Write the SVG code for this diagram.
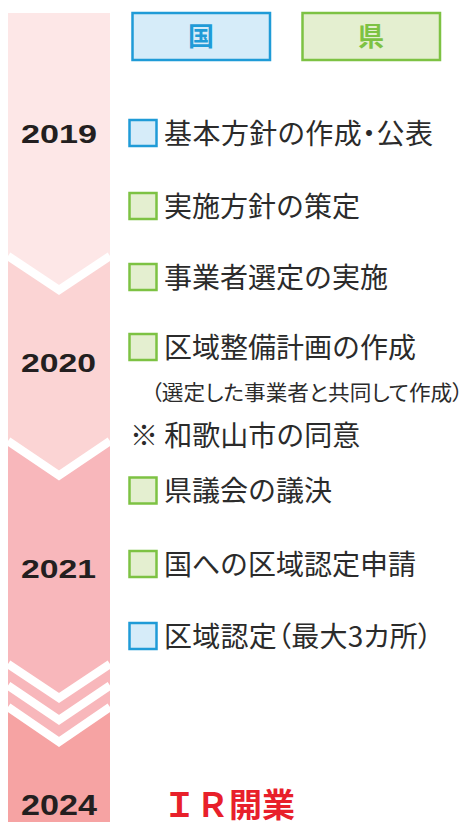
<svg xmlns="http://www.w3.org/2000/svg" width="467" height="822" viewBox="0 0 467 822">
<style>
.yr{font-family:"Liberation Sans",Arial,sans-serif;font-weight:bold;font-size:26px;fill:#231f20}
.t{font-family:"Noto Sans CJK JP",sans-serif;font-size:28px;fill:#2b2b2b}
.p{font-feature-settings:"palt"}
.s{font-family:"Noto Sans CJK JP",sans-serif;font-size:21px;fill:#2b2b2b;font-feature-settings:"palt"}
.cb{fill:#d6ecf9;stroke:#1f9bd7;stroke-width:2.5}
.cg{fill:#e4efd0;stroke:#7dc243;stroke-width:2.5}
.chev{fill:none;stroke:#fff;stroke-width:8.4}
</style>
<rect width="467" height="822" fill="#fff"/>
<g id="timeline">
<rect x="8" y="13" width="102" height="809" fill="#fde7e7"/>
<polygon points="8,256 59,290 110,256 110,822 8,822" fill="#fbd4d4"/>
<polygon points="8,441 59,475.5 110,441 110,822 8,822" fill="#f8b7bb"/>
<polygon points="8,707 59,742 110,707 110,822 8,822" fill="#f6a3a3"/>
<polyline class="chev" points="8,256 59,290 110,256"/>
<polyline class="chev" points="8,441 59,475.5 110,441"/>
<polyline class="chev" points="8,664 59,698 110,664"/>
<polyline class="chev" points="8,685.5 59,720 110,685.5"/>
<polyline class="chev" points="8,707 59,742 110,707"/>
<text class="yr" x="21" y="143" textLength="76" lengthAdjust="spacingAndGlyphs">2019</text>
<text class="yr" x="21" y="372" textLength="75" lengthAdjust="spacingAndGlyphs">2020</text>
<text class="yr" x="21" y="578" textLength="75" lengthAdjust="spacingAndGlyphs">2021</text>
<text class="yr" x="21" y="815" textLength="76" lengthAdjust="spacingAndGlyphs" style="font-size:29px">2024</text>
</g>
<g id="legend-kuni">
<rect x="132.5" y="13" width="137.5" height="47" fill="#d6ecf9" stroke="#1f9bd7" stroke-width="2.5"/>
<text x="201" y="46" text-anchor="middle" style="font-family:'Noto Sans CJK JP',sans-serif;font-weight:bold;font-size:26px;fill:#1f9bd7">国</text>
</g>
<g id="legend-ken">
<rect x="302.5" y="13" width="137.5" height="47" fill="#e4efd0" stroke="#7dc243" stroke-width="2.5"/>
<text x="371" y="46" text-anchor="middle" style="font-family:'Noto Sans CJK JP',sans-serif;font-weight:bold;font-size:26px;fill:#7dc243">県</text>
</g>
<g id="item1"><rect class="cb" x="129.5" y="120" width="27" height="26"/><text class="t p" x="164" y="143.6" textLength="269" lengthAdjust="spacing">基本方針の作成・公表</text></g>
<g id="item2"><rect class="cg" x="129.5" y="193" width="27" height="26"/><text class="t" x="164" y="216.6">実施方針の策定</text></g>
<g id="item3"><rect class="cg" x="129.5" y="264" width="27" height="26"/><text class="t" x="164" y="287.6">事業者選定の実施</text></g>
<g id="item4"><rect class="cg" x="129.5" y="334" width="27" height="26"/><text class="t" x="164" y="357.6">区域整備計画の作成</text>
<text class="s" x="151" y="400" textLength="312" lengthAdjust="spacingAndGlyphs">（選定した事業者と共同して作成）</text></g>
<g id="note"><text class="t" x="130" y="446">※ 和歌山市の同意</text></g>
<g id="item5"><rect class="cg" x="129.5" y="477.5" width="27" height="26"/><text class="t" x="164" y="501">県議会の議決</text></g>
<g id="item6"><rect class="cg" x="129.5" y="551" width="27" height="26"/><text class="t" x="164" y="574.5">国への区域認定申請</text></g>
<g id="item7"><rect class="cb" x="129.5" y="623" width="27" height="26"/><text class="t p" x="164" y="646.6" textLength="268" lengthAdjust="spacing">区域認定（最大3カ所）</text></g>
<g id="open"><text x="163" y="816.5" style="font-family:'Noto Sans CJK JP',sans-serif;font-weight:bold;font-size:33px;fill:#e8202a">ＩＲ開業</text></g>
<g id="connectors"></g>
</svg>
